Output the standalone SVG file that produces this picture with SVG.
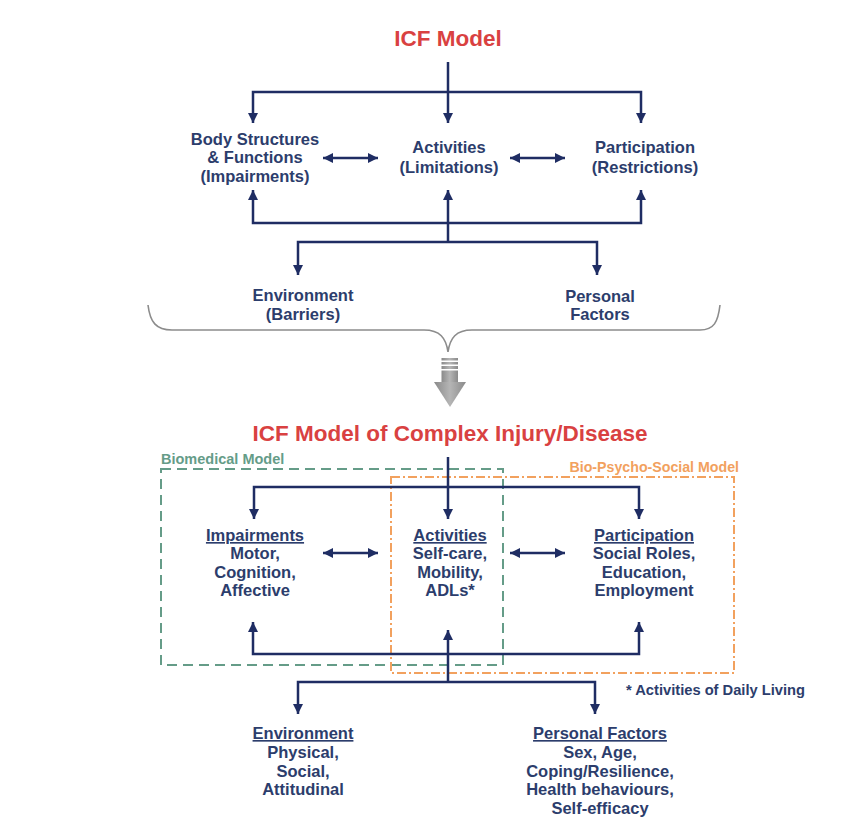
<svg xmlns="http://www.w3.org/2000/svg" width="848" height="823" viewBox="0 0 848 823">
<defs>
<marker id="ah" viewBox="0 0 10 10" refX="10" refY="5" markerWidth="10" markerHeight="10" markerUnits="userSpaceOnUse" orient="auto-start-reverse">
<path d="M0,0 L10,5 L0,10 z" fill="#1f2d63"/>
</marker>
<linearGradient id="gg" x1="0" y1="0" x2="1" y2="0">
<stop offset="0" stop-color="#8a8a8a"/>
<stop offset="0.5" stop-color="#b5b5b5"/>
<stop offset="1" stop-color="#8a8a8a"/>
</linearGradient>
</defs>
<style>
.t{font-family:"Liberation Sans",Arial,sans-serif;font-weight:bold;font-size:16.5px;fill:#2c3d6c;text-anchor:middle}
.u{text-decoration:underline}
.title{font-family:"Liberation Sans",Arial,sans-serif;font-weight:bold;font-size:22.5px;fill:#d94141;text-anchor:middle}
.c{fill:none;stroke:#1f2d63;stroke-width:2.5}
.a{marker-end:url(#ah)}
.b{marker-start:url(#ah);marker-end:url(#ah)}
</style>
<rect width="848" height="823" fill="#ffffff"/>

<g id="title-top"><text class="title" x="448" y="46">ICF Model</text></g>
<g id="body"><text class="t" x="255" y="145">Body Structures</text><text class="t" x="255" y="163">&amp; Functions</text><text class="t" x="255" y="182">(Impairments)</text></g>
<g id="activities"><text class="t" x="449" y="153">Activities</text><text class="t" x="449" y="173">(Limitations)</text></g>
<g id="participation"><text class="t" x="645" y="153">Participation</text><text class="t" x="645" y="173">(Restrictions)</text></g>
<g id="environment"><text class="t" x="303" y="301">Environment</text><text class="t" x="303" y="320">(Barriers)</text></g>
<g id="personal"><text class="t" x="600" y="302">Personal</text><text class="t" x="600" y="320">Factors</text></g>

<g id="brace"><path d="M148,305 C150,322 156,330 172,330 H424 C440,330 446,338 448,352 C450,338 456,330 472,330 H700 C714,330 718,322 720,305" fill="none" stroke="#8c8c8c" stroke-width="1.6"/></g>
<g id="big-arrow" fill="url(#gg)">
<rect x="441.5" y="358" width="16.5" height="2.5"/>
<rect x="441.5" y="362" width="16.5" height="2.5"/>
<rect x="441.5" y="366" width="16.5" height="3"/>
<rect x="441.5" y="370.5" width="16.5" height="12"/>
<polygon points="434,382 466,382 450,407"/>
</g>

<g id="title-bottom"><text class="title" x="450" y="441">ICF Model of Complex Injury/Disease</text></g>
<g id="biomedical">
<rect x="161" y="469" width="342" height="196" fill="none" stroke="#659c88" stroke-width="2" stroke-dasharray="10,6"/>
<text x="161" y="464" font-family="Liberation Sans,Arial,sans-serif" font-weight="bold" font-size="14.5" fill="#659c88">Biomedical Model</text>
</g>
<g id="biopsychosocial">
<rect x="391" y="477" width="343" height="196" fill="none" stroke="#f2a15e" stroke-width="2" stroke-dasharray="9,3,2,3"/>
<text x="739" y="472" text-anchor="end" font-family="Liberation Sans,Arial,sans-serif" font-weight="bold" font-size="14.2" fill="#f2a15e">Bio-Psycho-Social Model</text>
</g>
<g id="impairments"><text class="t u" x="255" y="541">Impairments</text><text class="t" x="255" y="559">Motor,</text><text class="t" x="255" y="578">Cognition,</text><text class="t" x="255" y="596">Affective</text></g>
<g id="activities2"><text class="t u" x="450" y="541">Activities</text><text class="t" x="450" y="559">Self-care,</text><text class="t" x="450" y="578">Mobility,</text><text class="t" x="450" y="596">ADLs*</text></g>
<g id="participation2"><text class="t u" x="644" y="541">Participation</text><text class="t" x="644" y="559">Social Roles,</text><text class="t" x="644" y="578">Education,</text><text class="t" x="644" y="596">Employment</text></g>
<g id="footnote"><text x="626" y="695" font-family="Liberation Sans,Arial,sans-serif" font-weight="bold" font-size="14.7" fill="#2c3d6c">* Activities of Daily Living</text></g>
<g id="environment2"><text class="t u" x="303" y="739">Environment</text><text class="t" x="303" y="758">Physical,</text><text class="t" x="303" y="777">Social,</text><text class="t" x="303" y="795">Attitudinal</text></g>
<g id="personal2"><text class="t u" x="600" y="739">Personal Factors</text><text class="t" x="600" y="758">Sex, Age,</text><text class="t" x="600" y="777">Coping/Resilience,</text><text class="t" x="600" y="795">Health behaviours,</text><text class="t" x="600" y="814">Self-efficacy</text></g>

<g id="connectors">
<path class="c a" d="M448,62 V123"/>
<path class="c b" d="M253,123 V92 H641 V123"/>
<path class="c b" d="M323,158 H378"/>
<path class="c b" d="M510,158 H565"/>
<path class="c b" d="M253,190 V223 H641 V190"/>
<path class="c a" d="M448,242 V190"/>
<path class="c b" d="M298,275 V242 H597 V275"/>
<path class="c a" d="M448,457 V519"/>
<path class="c b" d="M254,519 V487 H639 V519"/>
<path class="c b" d="M323,553 H378"/>
<path class="c b" d="M510,553 H565"/>
<path class="c b" d="M253,622 V654 H639 V622"/>
<path class="c a" d="M448,682 V630"/>
<path class="c b" d="M298,714 V682 H595 V714"/>
</g>
</svg>
